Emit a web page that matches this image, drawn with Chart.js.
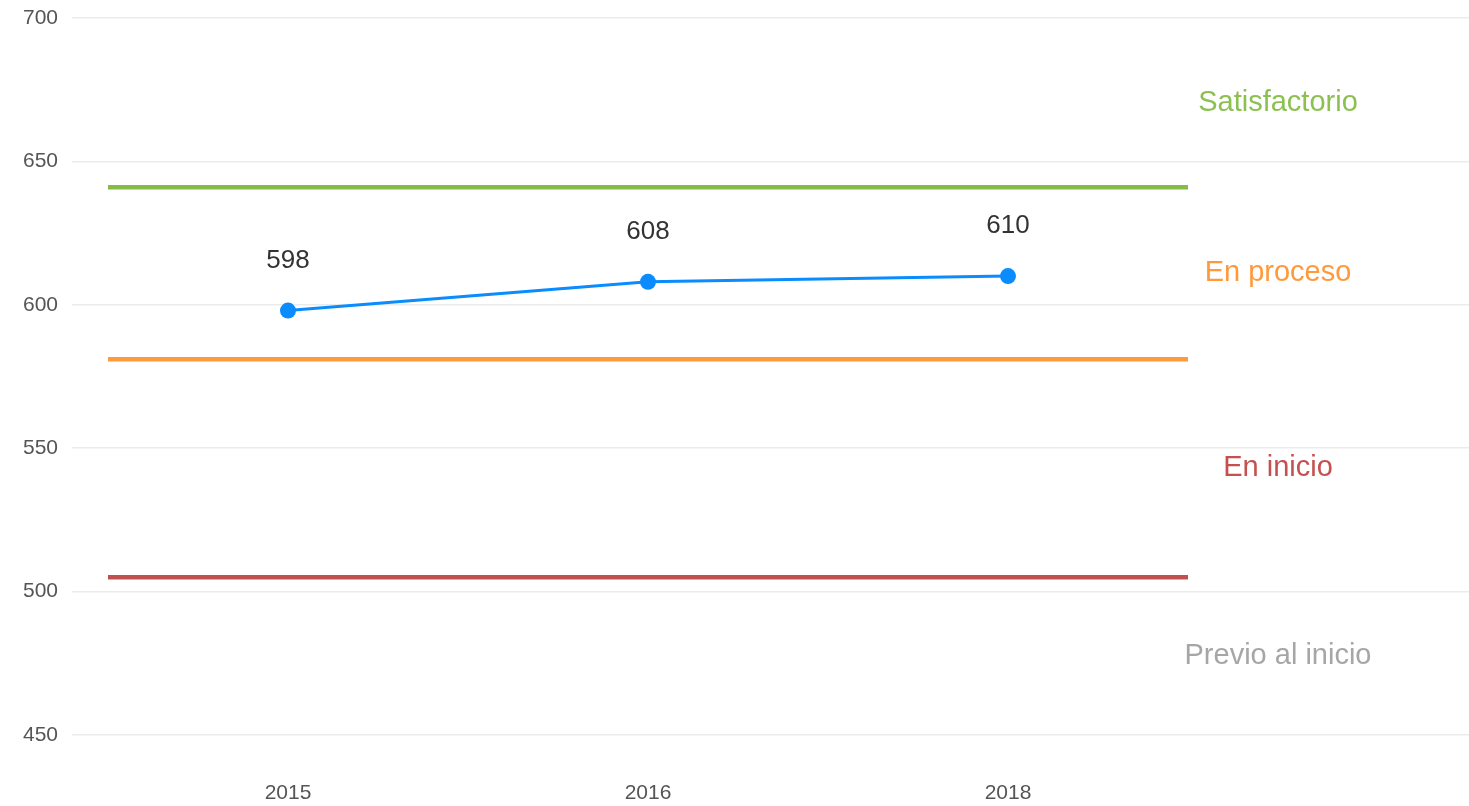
<!DOCTYPE html>
<html>
<head>
<meta charset="utf-8">
<script src="https://cdn.jsdelivr.net/npm/chart.js@4/dist/chart.umd.min.js"></script>
<style>
  html, body { margin: 0; padding: 0; background: #ffffff; overflow: hidden; }
  canvas { display: block; }
</style>
</head>
<body>
<canvas id="chart" width="1469" height="806"></canvas>
<script>
// Evaluation years and average score
const years = ['2015', '2016', '2018'];
const scores = [598, 608, 610];

// Achievement levels: cut scores and band names (bottom to top)
const cutScores = [505, 581, 641];
const cutColors = ['#c0504d', '#ff9a3c', '#86bc45'];
const bandNames = ['Previo al inicio', 'En inicio', 'En proceso', 'Satisfactorio'];
const bandColors = ['#a6a6a6', '#c4504f', '#ff9a3c', '#8cc152'];

// Y axis range and ticks
const yMin = 450;
const yMax = 700;
const yStep = 50;

const FONT = '"Liberation Sans", Arial, Helvetica, sans-serif';

const cutDatasets = cutScores.map((v, i) => ({
  label: 'cut' + i,
  data: [{ x: -0.5, y: v }, { x: years.length - 0.5, y: v }],
  borderColor: cutColors[i],
  borderWidth: 4.5,
  pointRadius: 0,
  fill: false,
  order: 2
}));

const scoreDataset = {
  label: 'Puntaje',
  data: scores.map((v, i) => ({ x: i, y: v })),
  borderColor: '#0a8cff',
  backgroundColor: '#0a8cff',
  borderWidth: 3,
  pointRadius: 8,
  pointBackgroundColor: '#0a8cff',
  pointBorderWidth: 0,
  fill: false,
  order: 1
};

// Value labels above points and band names on the right
const annotate = {
  id: 'annotate',
  afterDatasetsDraw(chart) {
    const ctx = chart.ctx;
    const xs = chart.scales.x, ys = chart.scales.y;
    ctx.save();
    ctx.textAlign = 'center';
    ctx.textBaseline = 'middle';
    ctx.fillStyle = '#333333';
    ctx.font = '26px ' + FONT;
    scores.forEach((v, i) => {
      ctx.fillText(String(v), xs.getPixelForValue(i), ys.getPixelForValue(v) - 50);
    });
    const edges = [yMin, ...cutScores, yMax];
    ctx.font = '29px ' + FONT;
    const labelX = xs.getPixelForValue(years.length - 0.25);
    bandNames.forEach((name, i) => {
      const mid = (edges[i] + edges[i + 1]) / 2;
      ctx.fillStyle = bandColors[i];
      ctx.fillText(name, labelX, ys.getPixelForValue(mid));
    });
    ctx.restore();
  }
};

function noEdgePadding(scale) {
  scale.paddingLeft = 0;
  scale.paddingRight = 0;
  scale.paddingTop = 0;
  scale.paddingBottom = 0;
}

new Chart(document.getElementById('chart'), {
  type: 'line',
  data: { datasets: [...cutDatasets, scoreDataset] },
  options: {
    responsive: false,
    animation: false,
    layout: { autoPadding: false, padding: { top: 18, left: 0, right: 0, bottom: 0 } },
    plugins: { legend: { display: false }, tooltip: { enabled: false } },
    scales: {
      x: {
        type: 'linear',
        min: -0.6,
        max: 3.2806,
        grid: { display: false, drawTicks: false },
        border: { display: false },
        afterBuildTicks(scale) {
          scale.ticks = years.map((_, i) => ({ value: i }));
        },
        afterFit(scale) { scale.height = 71; noEdgePadding(scale); },
        ticks: {
          padding: 46,
          color: '#555555',
          font: { family: FONT, size: 21 },
          maxRotation: 0,
          callback: (v) => years[v] !== undefined ? years[v] : ''
        }
      },
      y: {
        min: yMin,
        max: yMax,
        grid: { color: '#ebebeb', lineWidth: 1.5, drawTicks: false },
        border: { display: false },
        afterFit(scale) { scale.width = 72; noEdgePadding(scale); },
        ticks: {
          stepSize: yStep,
          padding: 14,
          color: '#555555',
          font: { family: FONT, size: 21 }
        }
      }
    }
  },
  plugins: [annotate]
});
</script>
</body>
</html>
